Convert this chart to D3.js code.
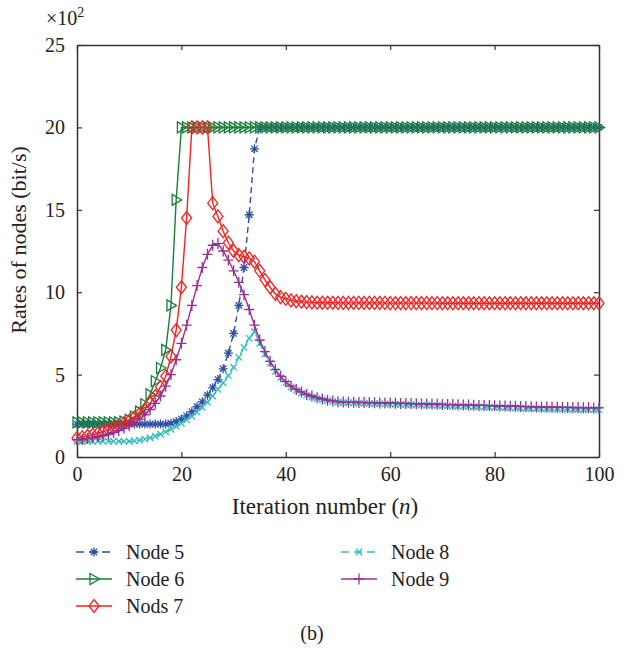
<!DOCTYPE html>
<html>
<head>
<meta charset="utf-8">
<script src="https://cdn.jsdelivr.net/npm/d3@7"></script>
</head>
<body style="margin:0">
<div id="chart"></div>
<script>
// iteration numbers 0..100
var iterations = d3.range(0, 101);

// rates (x 10^2 bit/s)
var node5 = [2.0,2.0,2.0,2.0,2.0,2.0,2.0,2.0,2.0,2.0, 2.0,2.0,2.0,2.0,2.0,2.0,2.0,2.0,2.05,2.15,
  2.3,2.5,2.75,3.05,3.35,3.75,4.2,4.7,5.35,6.3, 7.5,9.2,11.5,14.7,18.7,20,20,20,20,20,
  20,20,20,20,20,20,20,20,20,20, 20,20,20,20,20,20,20,20,20,20,
  20,20,20,20,20,20,20,20,20,20, 20,20,20,20,20,20,20,20,20,20,
  20,20,20,20,20,20,20,20,20,20, 20,20,20,20,20,20,20,20,20,20, 20];

var node6 = [2.1,2.1,2.1,2.1,2.1,2.1,2.1,2.1,2.1,2.15, 2.25,2.45,2.75,3.2,3.8,4.6,5.4,6.5,9.2,15.6,
  20,20,20,20,20,20,20,20,20,20, 20,20,20,20,20,20,20,20,20,20,
  20,20,20,20,20,20,20,20,20,20, 20,20,20,20,20,20,20,20,20,20,
  20,20,20,20,20,20,20,20,20,20, 20,20,20,20,20,20,20,20,20,20,
  20,20,20,20,20,20,20,20,20,20, 20,20,20,20,20,20,20,20,20,20, 20];

var node7 = [1.15,1.2,1.27,1.35,1.44,1.54,1.65,1.77,1.9,2.05, 2.2,2.4,2.62,2.9,3.25,3.7,4.25,4.9,6.1,7.7,
  10.3,14.5,20,20,20,20,15.4,14.6,13.7,13.0, 12.5,12.25,12.15,12.05,11.85,11.3,10.75,10.3,9.9,9.7,
  9.6,9.5,9.45,9.42,9.4,9.38,9.36,9.36,9.36,9.36, 9.35,9.35,9.35,9.35,9.35,9.35,9.35,9.35,9.35,9.35,
  9.34,9.34,9.34,9.34,9.34,9.34,9.34,9.34,9.34,9.34, 9.33,9.33,9.33,9.33,9.33,9.33,9.33,9.33,9.33,9.33,
  9.33,9.33,9.33,9.33,9.33,9.33,9.33,9.33,9.33,9.33, 9.33,9.33,9.33,9.33,9.33,9.33,9.33,9.33,9.33,9.33, 9.33];

var node8 = [0.95,0.95,0.95,0.95,0.95,0.95,0.95,0.95,0.95,0.95, 0.95,0.98,1.02,1.08,1.16,1.26,1.38,1.52,1.68,1.86,
  2.05,2.25,2.47,2.72,3.0,3.32,3.7,4.1,4.5,4.95, 5.45,6.05,6.65,7.2,7.6,6.9,6.25,5.7,5.2,4.82,
  4.5,4.24,4.04,3.88,3.75,3.64,3.55,3.48,3.42,3.37, 3.33,3.30,3.29,3.28,3.27,3.26,3.25,3.24,3.23,3.22,
  3.21,3.20,3.19,3.18,3.17,3.16,3.15,3.14,3.13,3.12, 3.11,3.10,3.09,3.08,3.07,3.06,3.05,3.04,3.03,3.02,
  3.01,3.00,2.99,2.98,2.97,2.96,2.95,2.94,2.93,2.92, 2.91,2.91,2.90,2.90,2.89,2.89,2.88,2.88,2.88,2.87, 2.87];

var node9 = [1.05,1.08,1.12,1.17,1.23,1.3,1.38,1.48,1.6,1.74, 1.9,2.08,2.3,2.56,2.88,3.25,3.7,4.3,5.0,5.9,
  6.9,8.0,9.2,10.4,11.5,12.3,12.85,12.95,12.5,11.95, 11.3,10.6,9.85,8.95,8.0,7.1,6.4,5.8,5.3,4.9,
  4.57,4.3,4.1,3.95,3.8,3.7,3.6,3.52,3.45,3.4, 3.36,3.33,3.32,3.32,3.31,3.30,3.30,3.29,3.28,3.28,
  3.27,3.26,3.25,3.25,3.24,3.23,3.22,3.22,3.21,3.20, 3.19,3.18,3.18,3.17,3.16,3.15,3.14,3.13,3.13,3.12,
  3.11,3.10,3.09,3.08,3.08,3.07,3.06,3.05,3.04,3.04, 3.03,3.02,3.02,3.01,3.01,3.00,3.00,2.99,2.99,2.98, 2.98];

var seriesNames = ["Node 5", "Node 6", "Nods 7", "Node 8", "Node 9"];
var yTicks = [0, 5, 10, 15, 20, 25];
var xTicks = [0, 20, 40, 60, 80, 100];

var colors = ["#2f4fa6", "#177f3a", "#f52222", "#2fbdbd", "#973095"];
var dashes = ["6,4", null, null, "6,4", null];
// marker paths, centred on 0,0
var markers = [
  "M-4.5,0H4.5M0,-4.5V4.5M-3.2,-3.2L3.2,3.2M-3.2,3.2L3.2,-3.2",
  "M-4,-5.5L5.5,0L-4,5.5Z",
  "M0,-6.5L5,0L0,6.5L-5,0Z",
  "M-3.2,-3.2L3.2,3.2M-3.2,3.2L3.2,-3.2",
  "M-5,0H5M0,-5.5V5.5"
];
var allSeries = [node5, node6, node7, node8, node9];

var FONT = "Liberation Serif";

var W = 632, H = 653;
var margin = {top: 45, right: 33, bottom: 196, left: 77},
    width = W - margin.left - margin.right,
    height = H - margin.top - margin.bottom;

var svg = d3.select("#chart")
  .append("svg")
    .attr("width", W)
    .attr("height", H);

var g = svg.append("g")
    .attr("transform", "translate(" + margin.left + "," + margin.top + ")");

var x = d3.scaleLinear().domain([0, 100]).range([0, width]);
var y = d3.scaleLinear().domain([0, 25]).range([height, 0]);

// axes with inward ticks on all sides
var axisStyle = function(sel) {
  sel.attr("font-family", FONT).attr("font-size", 20);
  sel.selectAll("path").attr("stroke", "#333").attr("stroke-width", 1.5);
  sel.selectAll("line").attr("stroke", "#333").attr("stroke-width", 1.2);
  sel.selectAll("text").attr("fill", "#222");
};

g.append("g")
    .attr("transform", "translate(0," + height + ")")
    .call(d3.axisBottom(x).tickValues(xTicks).tickSizeInner(-5).tickSizeOuter(0).tickPadding(10))
    .call(axisStyle);
g.append("g")
    .call(d3.axisTop(x).tickValues(xTicks).tickSizeInner(-5).tickSizeOuter(0).tickFormat(""))
    .call(axisStyle);
g.append("g")
    .call(d3.axisLeft(y).tickValues(yTicks).tickSizeInner(-5).tickSizeOuter(0).tickPadding(12))
    .call(axisStyle);
g.append("g")
    .attr("transform", "translate(" + width + ",0)")
    .call(d3.axisRight(y).tickValues(yTicks).tickSizeInner(-5).tickSizeOuter(0).tickFormat(""))
    .call(axisStyle);

// x10^2 exponent
var ex = svg.append("text")
    .attr("x", 46).attr("y", 25)
    .attr("fill", "#222")
    .attr("font-family", FONT)
    .attr("font-size", 20);
ex.append("tspan").text("\u00d710");
ex.append("tspan").attr("dy", -8).attr("font-size", 14).text("2");

// axis titles
var xt = g.append("text")
    .attr("x", 248).attr("y", height + 57)
    .attr("text-anchor", "middle")
    .attr("fill", "#222")
    .attr("font-family", FONT)
    .attr("font-size", 23);
xt.append("tspan").text("Iteration number (");
xt.append("tspan").attr("font-style", "italic").text("n");
xt.append("tspan").text(")");

g.append("text")
    .attr("transform", "translate(-51," + (height / 2 - 11) + ") rotate(-90)")
    .attr("text-anchor", "middle")
    .attr("fill", "#222")
    .attr("font-family", FONT)
    .attr("font-size", 22)
    .text("Rates of nodes (bit/s)");

// lines and markers
var line = d3.line()
    .x(function(d, i) { return x(iterations[i]); })
    .y(function(d) { return y(d); });

allSeries.forEach(function(s, k) {
  var sg = g.append("g");
  sg.append("path")
    .datum(s)
    .attr("fill", "none")
    .attr("stroke", colors[k])
    .attr("stroke-width", 1.4)
    .attr("stroke-dasharray", dashes[k])
    .attr("d", line);
  sg.selectAll("path.m")
    .data(s)
    .enter().append("path")
      .attr("class", "m")
      .attr("transform", function(d, i) { return "translate(" + x(iterations[i]) + "," + y(d) + ")"; })
      .attr("d", markers[k])
      .attr("fill", "none")
      .attr("stroke", colors[k])
      .attr("stroke-width", 1.3);
});

// legend
var legendPos = [[76, 552], [76, 579], [76, 606], [341, 552], [341, 579]];
var lg = svg.append("g");
seriesNames.forEach(function(name, k) {
  var p = legendPos[k];
  lg.append("line")
    .attr("x1", p[0]).attr("x2", p[0] + 36)
    .attr("y1", p[1]).attr("y2", p[1])
    .attr("stroke", colors[k])
    .attr("stroke-width", 1.4)
    .attr("stroke-dasharray", dashes[k] ? "8,5" : null);
  lg.append("path")
    .attr("transform", "translate(" + (p[0] + 18) + "," + p[1] + ")")
    .attr("d", markers[k])
    .attr("fill", dashes[k] ? "#fff" : "none")
    .attr("stroke", colors[k])
    .attr("stroke-width", 1.3);
  lg.append("text")
    .attr("x", p[0] + 50).attr("y", p[1] + 7)
    .attr("fill", "#222")
    .attr("font-family", FONT)
    .attr("font-size", 20)
    .text(name);
});

svg.append("text")
  .attr("x", 312).attr("y", 640)
  .attr("text-anchor", "middle")
  .attr("fill", "#222")
  .attr("font-family", FONT)
  .attr("font-size", 20)
  .text("(b)");
</script>
</body>
</html>
